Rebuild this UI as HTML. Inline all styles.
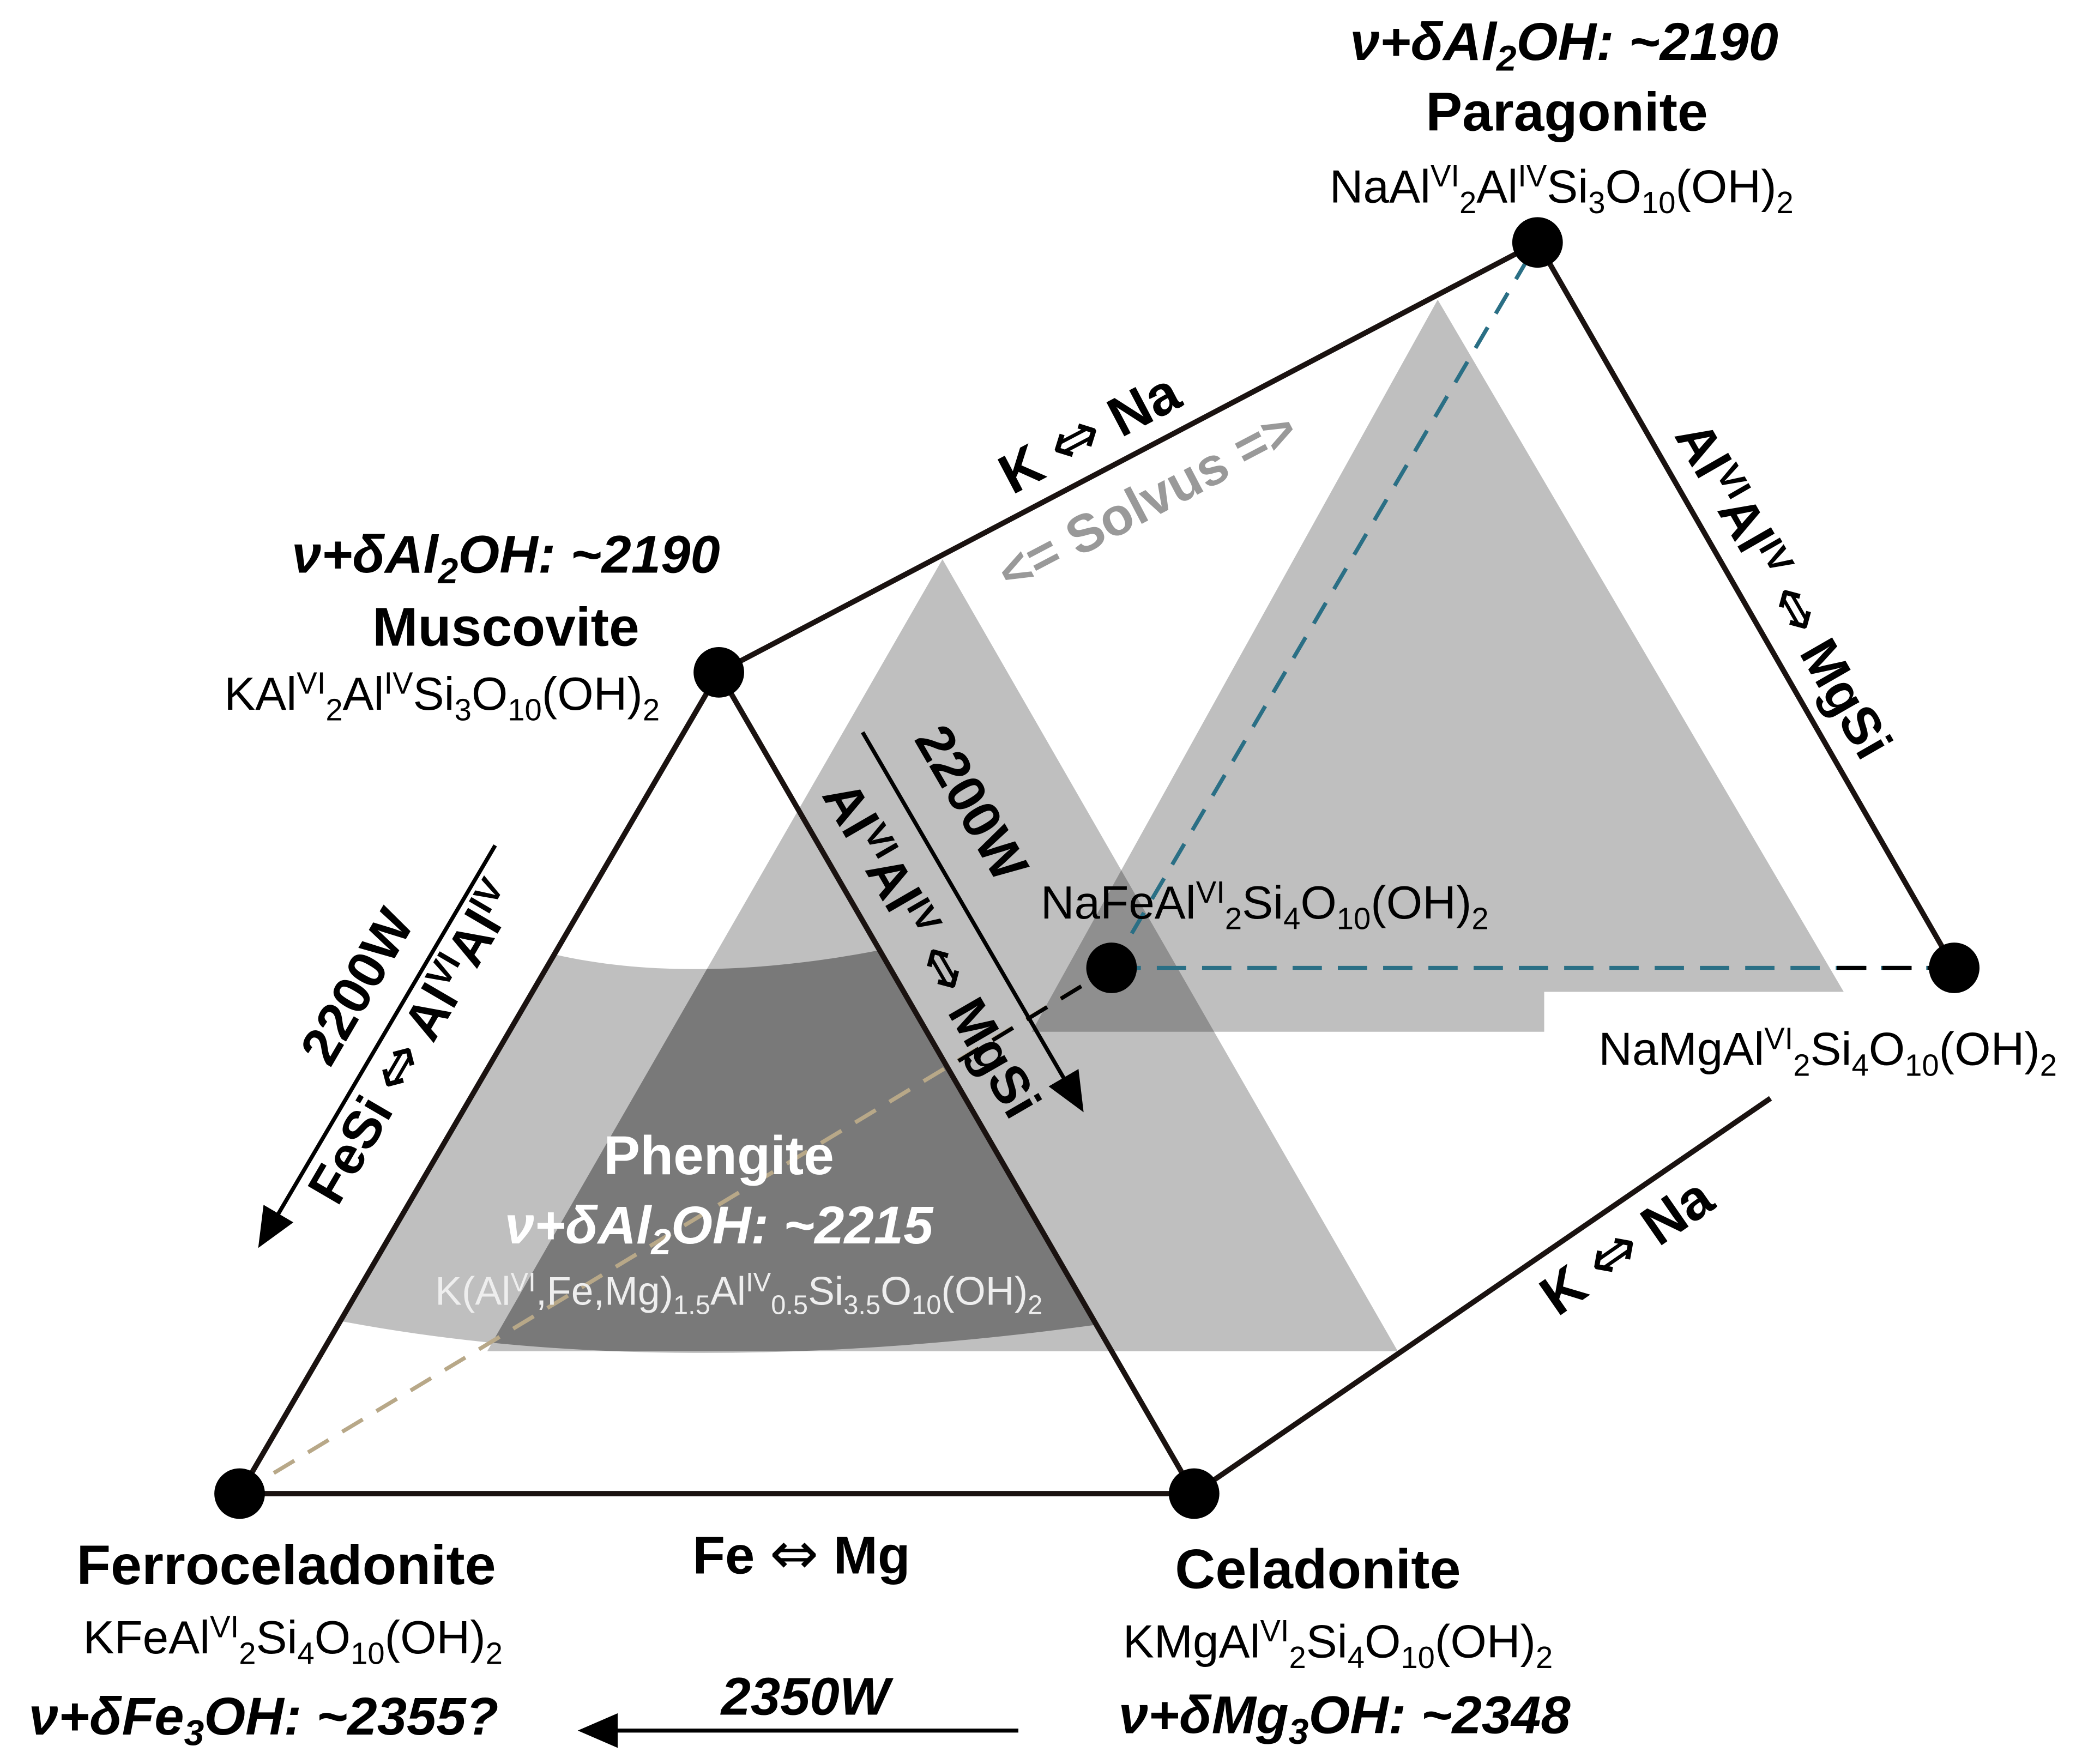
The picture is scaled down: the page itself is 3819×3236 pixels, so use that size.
<!DOCTYPE html>
<html><head><meta charset="utf-8"><style>
html,body{margin:0;padding:0;background:#fff}
svg{display:block}
text{font-family:"Liberation Sans",Arial,sans-serif}
.ar{font-family:"DejaVu Sans",sans-serif;font-weight:normal;font-size:1.1em}
</style></head><body>
<svg width="3819" height="3236" viewBox="0 0 1564 1325" xmlns="http://www.w3.org/2000/svg">
<defs>
<clipPath id="tri"><polygon points="708,420 1050,1015 366,1015"/></clipPath>
<clipPath id="mt"><polygon points="540,505 180,1122 897,1122"/></clipPath>
<marker id="ah" markerWidth="30" markerHeight="26" refX="26" refY="13" orient="auto" markerUnits="userSpaceOnUse" viewBox="0 0 30 26"><path d="M0,0 L30,13 L0,26 z" fill="#000"/></marker>
</defs>
<polygon points="1080,225 1385,745 1160,745 1160,775 775,775" fill="#000" fill-opacity="0.25"/>
<polygon points="708,420 1050,1015 366,1015" fill="#000" fill-opacity="0.25"/>
<g clip-path="url(#mt)">
<path d="M360,698 C440,735 570,740 720,700 L860,990 Q490,1045 220,985 Z" fill="#000" fill-opacity="0.25"/>
<g clip-path="url(#tri)"><path d="M360,698 C440,735 570,740 720,700 L860,990 Q490,1045 220,985 Z" fill="#000" fill-opacity="0.15"/></g>
</g>
<line x1="180" y1="1122" x2="835" y2="727" stroke="#b8a888" stroke-width="3" stroke-dasharray="18,12"/>
<line x1="720" y1="797" x2="835" y2="727" stroke="#000" stroke-width="3" stroke-dasharray="18,12"/>
<line x1="835" y1="727" x2="1155" y2="182" stroke="#2a6f85" stroke-width="3" stroke-dasharray="18,12"/>
<line x1="835" y1="727" x2="1468" y2="727" stroke="#2a6f85" stroke-width="3" stroke-dasharray="22,12"/>
<line x1="1380" y1="727" x2="1468" y2="727" stroke="#000" stroke-width="3" stroke-dasharray="22,12"/>
<g stroke="#1a1210" stroke-width="4" fill="none">
<line x1="540" y1="505" x2="1155" y2="182"/>
<line x1="1155" y1="182" x2="1468" y2="727"/>
<line x1="540" y1="505" x2="180" y2="1122"/>
<line x1="540" y1="505" x2="897" y2="1122"/>
<line x1="180" y1="1122" x2="897" y2="1122"/>
<line x1="897" y1="1122" x2="1330" y2="825"/>
</g>
<g fill="#000">
<circle cx="1155" cy="182" r="19"/><circle cx="540" cy="505" r="19"/>
<circle cx="180" cy="1122" r="19"/><circle cx="897" cy="1122" r="19"/>
<circle cx="835" cy="727" r="19"/><circle cx="1468" cy="727" r="19"/>
</g>
<g stroke="#000" stroke-width="3">
<line x1="648" y1="550" x2="812" y2="832" marker-end="url(#ah)"/>
<line x1="372" y1="635" x2="196" y2="934" marker-end="url(#ah)"/>
<line x1="765" y1="1300" x2="438" y2="1300" marker-end="url(#ah)"/>
</g>
<g text-anchor="middle" fill="#000">
<text x="1175" y="45" font-size="40" font-weight="bold" font-style="italic">ν+δAl<tspan font-size="27" dy="8">2</tspan><tspan dy="-8">OH: ~2190</tspan></text>
<text x="1177" y="98" font-size="41" font-weight="bold">Paragonite</text>
<text x="1173" y="152" font-size="35">NaAl<tspan font-size="23" dy="-12">VI</tspan><tspan font-size="23" dy="20">2</tspan><tspan dy="-8">Al</tspan><tspan font-size="23" dy="-12">IV</tspan><tspan dy="12">Si</tspan><tspan font-size="23" dy="8">3</tspan><tspan dy="-8">O</tspan><tspan font-size="23" dy="8">10</tspan><tspan dy="-8">(OH)</tspan><tspan font-size="23" dy="8">2</tspan></text>
<text x="380" y="430" font-size="40" font-weight="bold" font-style="italic">ν+δAl<tspan font-size="27" dy="8">2</tspan><tspan dy="-8">OH: ~2190</tspan></text>
<text x="380" y="485" font-size="41" font-weight="bold">Muscovite</text>
<text x="332" y="533" font-size="35">KAl<tspan font-size="23" dy="-12">VI</tspan><tspan font-size="23" dy="20">2</tspan><tspan dy="-8">Al</tspan><tspan font-size="23" dy="-12">IV</tspan><tspan dy="12">Si</tspan><tspan font-size="23" dy="8">3</tspan><tspan dy="-8">O</tspan><tspan font-size="23" dy="8">10</tspan><tspan dy="-8">(OH)</tspan><tspan font-size="23" dy="8">2</tspan></text>
<text x="950" y="690" font-size="35">NaFeAl<tspan font-size="23" dy="-12">VI</tspan><tspan font-size="23" dy="20">2</tspan><tspan dy="-8">Si</tspan><tspan font-size="23" dy="8">4</tspan><tspan dy="-8">O</tspan><tspan font-size="23" dy="8">10</tspan><tspan dy="-8">(OH)</tspan><tspan font-size="23" dy="8">2</tspan></text>
<text x="1373" y="800" font-size="35">NaMgAl<tspan font-size="23" dy="-12">VI</tspan><tspan font-size="23" dy="20">2</tspan><tspan dy="-8">Si</tspan><tspan font-size="23" dy="8">4</tspan><tspan dy="-8">O</tspan><tspan font-size="23" dy="8">10</tspan><tspan dy="-8">(OH)</tspan><tspan font-size="23" dy="8">2</tspan></text>
<text x="540" y="882" font-size="41" font-weight="bold" fill="#fff">Phengite</text>
<text x="540" y="934" font-size="40" font-weight="bold" font-style="italic" fill="#fff">ν+δAl<tspan font-size="27" dy="8">2</tspan><tspan dy="-8">OH: ~2215</tspan></text>
<text x="555" y="980" font-size="30" fill="#eee">K(Al<tspan font-size="20" dy="-10">VI</tspan><tspan dy="10">,Fe,Mg)</tspan><tspan font-size="20" dy="7">1.5</tspan><tspan dy="-7">Al</tspan><tspan font-size="20" dy="-10">IV</tspan><tspan font-size="20" dy="17">0.5</tspan><tspan dy="-7">Si</tspan><tspan font-size="20" dy="7">3.5</tspan><tspan dy="-7">O</tspan><tspan font-size="20" dy="7">10</tspan><tspan dy="-7">(OH)</tspan><tspan font-size="20" dy="7">2</tspan></text>
<text x="215" y="1190" font-size="42" font-weight="bold">Ferroceladonite</text>
<text x="220" y="1242" font-size="35">KFeAl<tspan font-size="23" dy="-12">VI</tspan><tspan font-size="23" dy="20">2</tspan><tspan dy="-8">Si</tspan><tspan font-size="23" dy="8">4</tspan><tspan dy="-8">O</tspan><tspan font-size="23" dy="8">10</tspan><tspan dy="-8">(OH)</tspan><tspan font-size="23" dy="8">2</tspan></text>
<text x="198" y="1303" font-size="40" font-weight="bold" font-style="italic">ν+δFe<tspan font-size="27" dy="8">3</tspan><tspan dy="-8">OH: ~2355?</tspan></text>
<text x="602" y="1182" font-size="40" font-weight="bold">Fe <tspan class="ar">⇔</tspan> Mg</text>
<text x="990" y="1193" font-size="42" font-weight="bold">Celadonite</text>
<text x="1005" y="1245" font-size="35">KMgAl<tspan font-size="23" dy="-12">VI</tspan><tspan font-size="23" dy="20">2</tspan><tspan dy="-8">Si</tspan><tspan font-size="23" dy="8">4</tspan><tspan dy="-8">O</tspan><tspan font-size="23" dy="8">10</tspan><tspan dy="-8">(OH)</tspan><tspan font-size="23" dy="8">2</tspan></text>
<text x="1010" y="1302" font-size="40" font-weight="bold" font-style="italic">ν+δMg<tspan font-size="27" dy="8">3</tspan><tspan dy="-8">OH: ~2348</tspan></text>
<text x="605" y="1288" font-size="40" font-weight="bold" font-style="italic">2350W</text>
<text transform="translate(825,338) rotate(-27.7)" font-size="42" font-weight="bold">K <tspan class="ar">⇔</tspan> Na</text>
<text transform="translate(868,388) rotate(-27.7)" font-size="40" font-weight="bold" fill="#999">&lt;= Solvus =&gt;</text>
<text transform="translate(1230,948) rotate(-34.7)" font-size="42" font-weight="bold">K <tspan class="ar">⇔</tspan> Na</text>
<text transform="translate(1328,450) rotate(60.1)" font-size="40" font-weight="bold">Al<tspan font-size="26" dy="-13">VI</tspan><tspan dy="13">Al</tspan><tspan font-size="26" dy="-13">IV</tspan><tspan dy="13"> </tspan><tspan class="ar">⇔</tspan> MgSi</text>
<text transform="translate(718,610) rotate(59.9)" font-size="40" font-weight="bold">2200W</text>
<text transform="translate(688,720) rotate(59.9)" font-size="40" font-weight="bold">Al<tspan font-size="26" dy="-13">VI</tspan><tspan dy="13">Al</tspan><tspan font-size="26" dy="-13">IV</tspan><tspan dy="13"> </tspan><tspan class="ar">⇔</tspan> MgSi</text>
<text transform="translate(280,748) rotate(-59.7)" font-size="40" font-weight="bold">2200W</text>
<text transform="translate(322,790) rotate(-59.7)" font-size="40" font-weight="bold">FeSi <tspan class="ar">⇔</tspan> Al<tspan font-size="26" dy="-13">VI</tspan><tspan dy="13">Al</tspan><tspan font-size="26" dy="-13">IV</tspan></text>
</g>
</svg>
</body></html>
